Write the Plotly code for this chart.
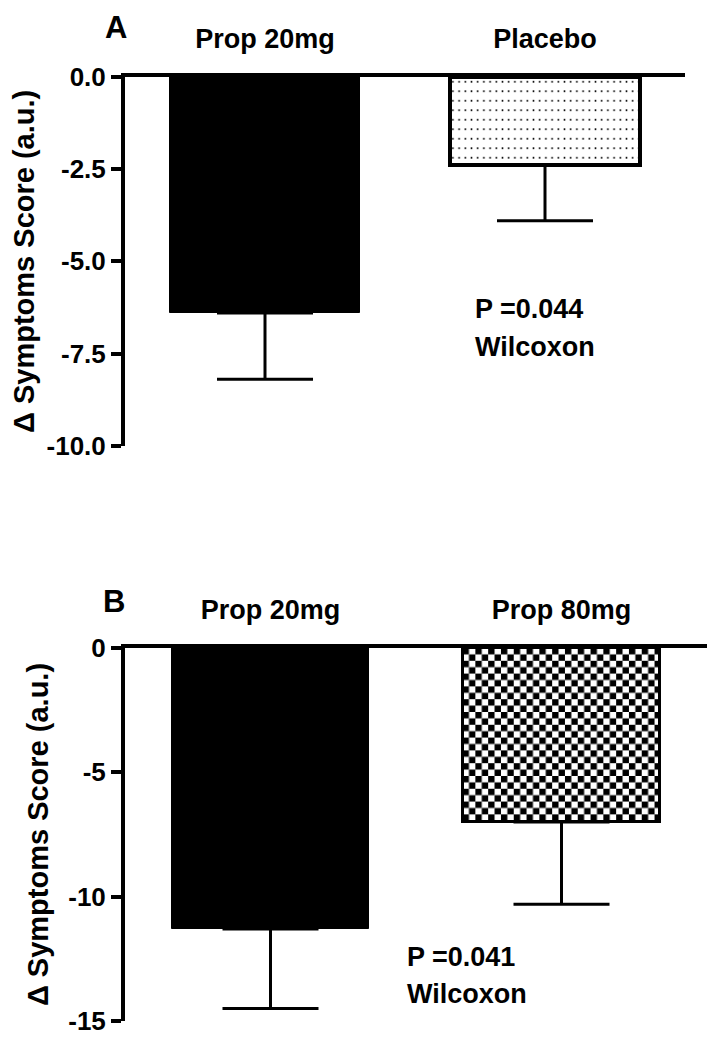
import base64
import plotly.graph_objects as go

W, H = 721, 1050
OFF = 8  # browser default body margin

# ---------------- data ----------------
# Panel A
cats_a = ["Prop 20mg", "Placebo"]
means_a = [-6.4, -2.4]
sem_a = [1.8, 1.5]
yticks_a = [0, -2.5, -5, -7.5, -10]
yticktext_a = ["0.0", "-2.5", "-5.0", "-7.5", "-10.0"]
stat_a = ["P =0.044", "Wilcoxon"]

# Panel B
cats_b = ["Prop 20mg", "Prop 80mg"]
means_b = [-11.3, -7.0]
sem_b = [3.2, 3.3]
yticks_b = [0, -5, -10, -15]
yticktext_b = ["0", "-5", "-10", "-15"]
stat_b = ["P =0.041", "Wilcoxon"]

# ---------------- layout geometry (page pixels) ----------------
FW, FH = W - 2 * OFF, H - 2 * OFF
A_x = (125, 685)
A_y = (77, 445.7)     # top (0), bottom (-10)
B_x = (125, 707)
B_y = (648, 1021)     # top (0), bottom (-15)
BAR_W = 0.68

def xd(p):
    return ((p[0] - OFF) / FW, (p[1] - OFF) / FW)

def yd(p):
    return (1 - (p[1] - OFF) / FH, 1 - (p[0] - OFF) / FH)

FONT = "Liberation Sans, Arial, sans-serif"

fig = go.Figure()

idx_a = list(range(len(cats_a)))
idx_b = list(range(len(cats_b)))

def err(s):
    return dict(type="data", symmetric=False, array=[0] * len(s), arrayminus=s,
                color="black", thickness=3, width=48)

fig.add_trace(go.Bar(
    x=idx_a, y=means_a, width=BAR_W, xaxis="x", yaxis="y",
    marker=dict(color=["black", "rgba(0,0,0,0)"], line=dict(color="black", width=[1, 4])),
    error_y=err(sem_a), hoverinfo="skip"))

fig.add_trace(go.Bar(
    x=idx_b, y=means_b, width=BAR_W, xaxis="x2", yaxis="y2",
    marker=dict(color=["black", "rgba(0,0,0,0)"], line=dict(color="black", width=[1, 3])),
    error_y=err(sem_b), hoverinfo="skip"))


def svg_uri(w, h, pattern_body, pw, ph):
    svg = (f'<svg xmlns="http://www.w3.org/2000/svg" width="{w:.1f}" height="{h:.1f}" '
           f'viewBox="0 0 {w:.1f} {h:.1f}" preserveAspectRatio="none">'
           f'<defs><pattern id="p" width="{pw}" height="{ph}" patternUnits="userSpaceOnUse">'
           f'<rect width="{pw}" height="{ph}" fill="white"/>{pattern_body}'
           f'</pattern></defs><rect width="100%" height="100%" fill="url(#p)"/></svg>')
    return "data:image/svg+xml;base64," + base64.b64encode(svg.encode()).decode()

# dotted fill for Placebo bar
pxa_w = BAR_W * (A_x[1] - A_x[0]) / 2
pxa_h = abs(means_a[1]) * (A_y[1] - A_y[0]) / abs(yticks_a[-1])
dx, dy = 6.2, 9.5
dots = f'<circle cx="{dx/2}" cy="{dy/2}" r="0.95" fill="black"/>'
fig.add_layout_image(dict(source=svg_uri(pxa_w, pxa_h, dots, dx, dy), xref="x", yref="y",
                          x=idx_a[1] - BAR_W / 2, y=0, sizex=BAR_W, sizey=abs(means_a[1]),
                          xanchor="left", yanchor="top", sizing="stretch", layer="below"))

# checkerboard fill for Prop 80mg bar
pxb_w = BAR_W * (B_x[1] - B_x[0]) / 2
pxb_h = abs(means_b[1]) * (B_y[1] - B_y[0]) / abs(yticks_b[-1])
c = 6.4
checks = (f'<rect width="{c}" height="{c}" fill="black"/>'
          f'<rect x="{c}" y="{c}" width="{c}" height="{c}" fill="black"/>')
fig.add_layout_image(dict(source=svg_uri(pxb_w, pxb_h, checks, 2 * c, 2 * c), xref="x2", yref="y2",
                          x=idx_b[1] - BAR_W / 2, y=0, sizex=BAR_W, sizey=abs(means_b[1]),
                          xanchor="left", yanchor="top", sizing="stretch", layer="below"))


def xaxis(domain, anchor, ticktext):
    return dict(domain=domain, anchor=anchor, side="top", range=[-0.5, 1.5],
                tickmode="array", tickvals=list(range(len(ticktext))), ticktext=ticktext,
                showline=True, linecolor="black", linewidth=4, ticks="",
                ticklabelstandoff=14, showgrid=False, zeroline=False, automargin=False,
                tickfont=dict(family=FONT, size=27, color="black", weight="bold"))

def yaxis(domain, anchor, rng, vals, text):
    return dict(domain=domain, anchor=anchor, range=rng, tickmode="array",
                tickvals=vals, ticktext=text, showline=True, linecolor="black",
                linewidth=4, ticks="outside", ticklen=10, tickwidth=4, tickcolor="black",
                showgrid=False, zeroline=False, automargin=False,
                tickfont=dict(family=FONT, size=26, color="black", weight="bold"),
                title=dict(text="Δ Symptoms Score (a.u.)", standoff=12,
                           font=dict(family=FONT, size=29, color="black", weight="bold")))

fig.update_layout(
    width=FW, height=FH, template="none", showlegend=False,
    margin=dict(l=0, r=0, t=0, b=0),
    paper_bgcolor="white", plot_bgcolor="rgba(0,0,0,0)",
    bargap=0,
    xaxis=xaxis(xd(A_x), "y", cats_a),
    yaxis=yaxis(yd(A_y), "x", [yticks_a[-1], 0], yticks_a, yticktext_a),
    xaxis2=xaxis(xd(B_x), "y2", cats_b),
    yaxis2=yaxis(yd(B_y), "x2", [yticks_b[-1], 0], yticks_b, yticktext_b),
)

def ann(text, x, y, size, xanchor="left"):
    fig.add_annotation(text=text, x=(x - OFF) / FW, y=1 - (y - OFF) / FH,
                       xref="paper", yref="paper",
                       xanchor=xanchor, yanchor="middle", showarrow=False,
                       font=dict(family=FONT, size=size, color="black", weight="bold"))

ann("A", 116, 28, 31, "center")
ann("B", 114, 601, 31, "center")
ann(stat_a[0], 473, 309, 27)
ann(stat_a[1], 473, 347, 27)
ann(stat_b[0], 405, 957, 27)
ann(stat_b[1], 405, 994, 27)

fig.write_html("out.html")
